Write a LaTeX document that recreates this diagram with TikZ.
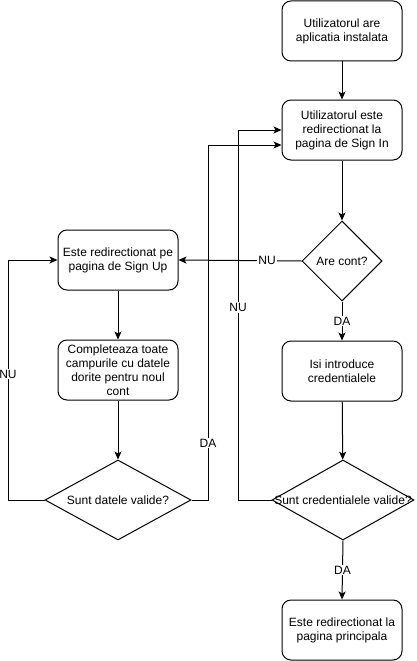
\documentclass[tikz,border=0pt]{standalone}
\usepackage{fontspec}
\setmainfont{Liberation Sans}
\usetikzlibrary{shapes.geometric,arrows.meta}
\begin{document}
\begin{tikzpicture}[x=1pt,y=-1pt,
  every node/.style={font=\fontsize{12pt}{14pt}\selectfont},
  box/.style={draw,line width=1pt,rounded corners=9pt,minimum width=120pt,minimum height=60pt,align=center,inner sep=2pt},
  arr/.style={line width=1pt,-{Stealth[length=8pt,width=7pt,inset=2pt]}},
  lbl/.style={fill=white,inner sep=1pt}]
\useasboundingbox (0,0) rectangle (416,661);
\node[box] (A) at (342,31) {Utilizatorul are\\aplicatia instalata};
\node[box] (B) at (342,130) {Utilizatorul este\\redirectionat la\\pagina de Sign In};
\node[draw,line width=1pt,diamond,minimum width=80pt,minimum height=80pt,inner sep=0pt] (AC) at (342,261) {};
\node at (AC) {Are cont?};
\node[box] (I) at (342,371) {Isi introduce\\credentialele};
\node[draw,line width=1pt,diamond,minimum width=142pt,minimum height=80pt,inner sep=0pt,aspect=1.78] (CV) at (343,500) {};
\node at (CV) {Sunt credentialele valide?};
\node[box] (P) at (342,630) {Este redirectionat la\\pagina principala};
\node[box] (SU) at (118,260) {Este redirectionat pe\\pagina de Sign Up};
\node[box] (C) at (118,370) {Completeaza toate\\campurile cu datele\\dorite pentru noul\\cont};
\node[draw,line width=1pt,diamond,minimum width=146pt,minimum height=80pt,inner sep=0pt,aspect=1.83] (DV) at (118,500) {};
\node at (DV) {Sunt datele valide?};
\coordinate (c1) at (238,500);
\coordinate (c2) at (208,500);
\coordinate (c3) at (8,500);
\draw[arr] (A) -- (B);
\draw[arr] (B) -- (AC);
\draw[arr] (AC.west) -- node[lbl,pos=0.28]{NU} (SU.east);
\draw[arr] (AC.south) -- node[lbl]{DA} (I.north);
\draw[arr] (I) -- (CV);
\draw[arr] (CV.south) -- node[lbl]{DA} (P.north);
\draw[arr] (SU) -- (C);
\draw[arr] (C) -- (DV);
\draw[arr] (CV.west) -- (c1) |- node[lbl,pos=0.26]{NU} (B.west);
\draw[arr] (DV.east) -- (c2) |- node[lbl,pos=0.08]{DA} ([yshift=-15pt]B.west);
\draw[arr] (DV.west) -- (c3) |- node[lbl,pos=0.2625]{NU} (SU.west);
\end{tikzpicture}
\end{document}
